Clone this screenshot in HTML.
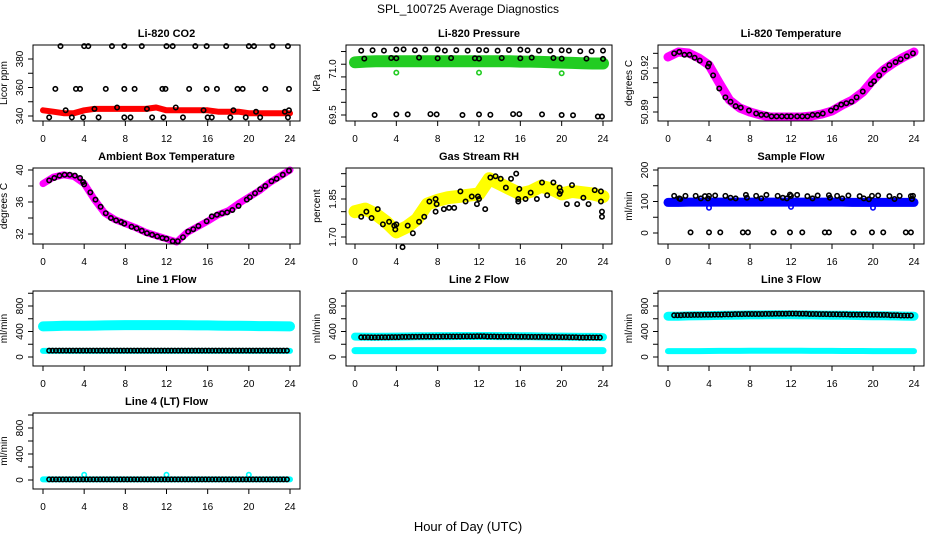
<!DOCTYPE html>
<html><head><meta charset="utf-8"><style>
body{margin:0;background:#fff;}
svg{display:block;font-family:"Liberation Sans",sans-serif;}
</style></head><body>
<svg id="chart" width="936" height="540" viewBox="0 0 936 540" xmlns="http://www.w3.org/2000/svg">
<rect width="936" height="540" fill="#fff"/>
<text x="468" y="13" font-size="12" text-anchor="middle">SPL_100725  Average Diagnostics</text>
<text x="468" y="531" font-size="13" text-anchor="middle">Hour of Day (UTC)</text>
</svg>
<script>
// ---------- data ----------
const hours = [0,1,2,3,4,5,6,7,8,9,10,11,12,13,14,15,16,17,18,19,20,21,22,23,24];
const xTicks = [0,4,8,12,16,20,24];

const co2Band = [344,343,342,342,344,345,345,345,345,345,345,346,344,344,344,344,344,343,343,343,342,342,342,342,342];
const co2PtX = [1.7,4,4.4,6.7,7.9,9.6,12,12.6,14.8,15.9,17.8,20,20.5,22.3,23.8, 1.2,3.2,3.6,6.1,7.9,8.9,11.6,11.9,14.2,15.9,16.9,18.9,19.4,21.6,23.9, 0.6,2.8,3.9,5.4,7.9,8.5,10.6,11.7,13.6,16,16.4,18.2,19.7,21.1,23.8, 2.2,5,7.2,10.1,12.9,15.6,18.5,20.7,23.5,23.9];
const co2PtY = [389,389,389,389,389,389,389,389,389,389,389,389,389,389,389, 359,359,359,359,359,359,359,359,359,359,359,359,359,359,359, 339,339,339,339,339,339,339,339,339,339,339,339,339,339,339, 344,345,346,345,346,344,344,343,343,344];

const presBand = [71.22,71.24,71.25,71.25,71.25,71.25,71.25,71.25,71.25,71.25,71.25,71.25,71.25,71.25,71.25,71.25,71.24,71.24,71.23,71.22,71.21,71.2,71.19,71.18,71.18];
const presPtX = [0.6,1.7,2.8,4,4.7,5.8,6.8,8,8.7,9.8,10.9,12,12.7,13.8,14.9,16,16.7,17.8,18.9,20,20.7,21.8,22.9,24, 0.9,3.5,4,6.2,8,9.3,11.6,12,14.2,16,17.1,19.2,20,22.4,24, 1.9,4,5.1,7.3,7.9,10.4,12,13.1,15.3,15.9,18.1,20,21.1,23.5,23.9];
const presPtY = [71.6,71.61,71.6,71.63,71.64,71.61,71.63,71.64,71.6,71.61,71.6,71.62,71.61,71.6,71.62,71.63,71.61,71.6,71.6,71.61,71.6,71.58,71.58,71.6, 71.34,71.36,71.35,71.37,71.35,71.36,71.35,71.34,71.36,71.35,71.37,71.36,71.34,71.34,71.33, 69.5,69.52,69.52,69.53,69.52,69.5,69.52,69.51,69.53,69.53,69.52,69.5,69.49,69.45,69.45];
const presGreenX = [4,12,20];
const presGreenY = [70.88,70.88,70.86];

const tempBand = [50.9275,50.9309,50.9302,50.9268,50.922,50.9098,50.8982,50.8927,50.89,50.888,50.8866,50.8866,50.8866,50.8866,50.8873,50.8886,50.8907,50.8948,50.8982,50.9036,50.9118,50.9186,50.9234,50.9275,50.9309];
const tempPtX = [0.6,1.1,1.6,2.1,2.6,3.1,3.9,4.0,4.4,5.0,5.6,6.1,6.6,7.1,7.9,8.6,9.1,9.6,10.1,10.6,11.1,11.6,12.0,12.6,13.1,13.6,14.1,14.6,15.1,15.9,16.4,16.9,17.4,17.9,18.4,19.0,19.8,20.1,20.6,21.1,21.6,22.2,22.7,23.3,23.9];
const tempPtY = [50.930,50.931,50.929,50.929,50.927,50.925,50.921,50.923,50.915,50.906,50.900,50.897,50.894,50.893,50.891,50.889,50.888,50.888,50.887,50.887,50.887,50.887,50.887,50.887,50.887,50.887,50.888,50.888,50.889,50.891,50.893,50.895,50.896,50.897,50.900,50.904,50.909,50.911,50.915,50.919,50.922,50.924,50.926,50.928,50.930];

const ambBand = [38.3,39.1,39.4,39.2,38.3,36.3,34.6,33.8,33.3,32.8,32.2,31.8,31.4,31.0,32.2,32.9,33.6,34.4,34.9,35.8,36.6,37.4,38.4,39.2,40.0];
const ambPtX = [0.6,1.1,1.6,2.1,2.6,3.1,3.6,3.9,4.0,4.6,5.1,5.6,6.1,6.6,7.1,7.6,7.9,8.6,9.1,9.6,10.1,10.6,11.1,11.6,12.0,12.6,13.1,13.6,14.1,14.6,15.1,15.9,16.4,16.9,17.4,17.9,18.4,19.0,19.8,20.1,20.6,21.1,21.6,22.2,22.7,23.3,23.9];
const ambPtY = [38.7,39.0,39.3,39.4,39.4,39.3,39.0,38.5,38.2,37.2,36.3,35.4,34.6,34.0,33.7,33.5,33.3,32.9,32.7,32.4,32.1,31.9,31.7,31.5,31.4,31.1,31.1,31.6,32.3,32.6,33.0,33.6,34.2,34.4,34.6,34.7,35.0,35.5,36.3,36.6,37.1,37.6,38.0,38.6,38.9,39.4,39.9];

const rhBand = [1.80,1.81,1.79,1.76,1.72,1.74,1.77,1.83,1.845,1.855,1.86,1.865,1.87,1.93,1.91,1.89,1.87,1.88,1.90,1.89,1.87,1.88,1.875,1.87,1.86];
const rhPtX = [0.6,1.1,1.6,2.2,2.7,3.3,3.8,3.9,4.0,4.6,5.1,5.6,6.2,6.7,7.2,7.8,7.8,7.9,8.6,9.1,9.6,10.2,10.7,11.3,11.8,11.9,12.0,12.6,13.1,13.6,14.1,14.6,15.1,15.6,15.8,15.8,15.9,16.5,17.0,17.6,18.1,18.6,19.2,19.8,19.8,19.9,20.5,21.0,21.5,22.1,22.6,23.2,23.8,23.8,23.9,23.9];
const rhPtY = [1.78,1.80,1.775,1.81,1.75,1.76,1.745,1.73,1.75,1.66,1.745,1.715,1.76,1.78,1.84,1.85,1.80,1.83,1.81,1.815,1.815,1.88,1.84,1.86,1.83,1.86,1.85,1.81,1.935,1.94,1.93,1.895,1.93,1.95,1.84,1.85,1.89,1.85,1.875,1.85,1.915,1.865,1.915,1.895,1.87,1.88,1.83,1.905,1.83,1.855,1.83,1.885,1.88,1.84,1.78,1.80];

const sfBand = [97,97,98,98,98,98,98,98,98,98,98,98,98,98,98,98,98,98,97,97,97,97,97,97,97];
const sfPtX = [0.6,1.1,1.2,1.7,2.7,3.2,3.6,3.9,4.0,4.6,5.6,6.1,6.6,7.6,7.7,8.6,9.1,9.6,10.7,11.2,11.6,11.9,12.0,12.6,13.6,14.1,14.6,15.7,15.8,16.5,17.0,17.6,18.7,19.1,19.6,19.9,20.5,21.6,22.1,22.6,23.7,23.8,23.9, 2.2,4.0,5.1,7.3,7.8,10.3,11.9,13.1,15.3,15.7,18.1,19.9,21.0,23.2,23.7];
const sfPtY = [118,110,108,118,118,110,117,110,118,119,118,112,110,121,112,118,110,121,118,112,110,122,118,121,117,110,119,120,112,118,110,119,117,110,107,118,119,117,108,118,117,108,118, 2,2,2,2,2,2,2,2,2,2,2,2,2,2,2];
const sfBlueX = [4,12,20];
const sfBlueY = [80,83,80];

const l1Upper = [480,485,490,490,490,492,495,498,500,500,500,500,500,500,498,495,495,492,490,490,488,485,485,482,480];
const l1Lower = [95,95,95,95,95,95,95,95,95,95,95,95,95,95,95,95,95,95,95,95,95,95,95,95,95];
const l1Black = [100,100,100,100,100,100,100,100,100,100,100,100,100,100,100,100,100,100,100,100,100,100,100,100,100];
const l2Upper = [320,318,315,318,320,322,325,326,328,328,330,330,330,330,328,328,326,325,322,320,320,318,316,315,312];
const l2Lower = [100,100,100,100,100,100,100,100,100,100,100,100,100,100,100,100,100,100,100,100,100,100,100,100,100];
const l2Black = [312,310,308,310,312,316,318,320,320,322,322,324,325,322,320,320,318,316,315,314,312,310,306,305,305];
const l3Upper = [640,640,645,648,650,652,655,658,660,660,662,662,662,660,660,658,656,655,652,650,648,646,645,642,640];
const l3Lower = [92,92,92,92,94,95,96,96,98,98,99,99,98,97,96,95,95,94,94,94,93,92,92,92,92];
const l3Black = [660,655,658,660,662,665,668,672,675,675,676,678,680,678,675,672,670,668,665,665,662,660,655,650,650];
const l4Band = [10,10,10,10,10,10,10,10,10,10,10,10,10,10,10,10,10,10,10,10,10,10,10,10,10];
const l4Black = [10,10,10,10,10,10,10,10,10,10,10,10,10,10,10,10,10,10,10,10,10,10,10,10,10];
const l4CyanX = [4,12,20];
const l4CyanY = [80,80,80];

const flowTicks = [0,200,400,600,800,1000];
const flowLabels = [0,400,800];

// ---------- helpers ----------
const svg = document.getElementById('chart');
const NS = 'http://www.w3.org/2000/svg';
function mk(tag, attrs, parent){
  const e = document.createElementNS(NS, tag);
  for (const k in attrs) e.setAttribute(k, attrs[k]);
  (parent||svg).appendChild(e);
  return e;
}
const cols = [{l:33,r:300,x0:43,x24:290},{l:346,r:612,x0:355,x24:603},{l:658,r:924,x0:668,x24:914}];
const rows = [{t:45,b:121},{t:168,b:244},{t:291,b:366},{t:413,b:489}];

function panel(name, title, ci, ri, yTitle, v1, p1, v2, p2, ticks, labels){
  const c = cols[ci], r = rows[ri];
  const g = mk('g', {});
  
  
  const xs = h => c.x0 + h*(c.x24-c.x0)/24;
  const ys = v => p1 + (v-v1)*(p2-p1)/(v2-v1);
  const t = mk('text', {x:(c.l+c.r)/2, y:r.t-8, 'font-size':11, 'font-weight':'bold', 'text-anchor':'middle'}, g);
  t.textContent = title;
  
  
  const plot = mk('g', {}, g);
  
  
  const xa = mk('g', {}, g);
  
  
  xTicks.forEach(h => {
    mk('line', {x1:xs(h), x2:xs(h), y1:r.b, y2:r.b+5, stroke:'#000', 'stroke-width':1}, xa);
    const lt = mk('text', {x:xs(h), y:r.b+21, 'font-size':10, 'text-anchor':'middle'}, xa);
    lt.textContent = h;
    
    
  });
  const ya = mk('g', {}, g);
  
  
  ticks.forEach(v => {
    mk('line', {x1:c.l-5, x2:c.l, y1:ys(v), y2:ys(v), stroke:'#000', 'stroke-width':1}, ya);
  });
  labels.forEach(l => {
    const y = ys(l.v), x = c.l-10;
    const lt = mk('text', {x:x, y:y, 'font-size':10, 'text-anchor':'middle', transform:`rotate(-90,${x},${y})`}, ya);
    lt.textContent = l.s;
    
    
  });
  const yx = c.l-26, yy = (r.t+r.b)/2;
  const yt = mk('text', {x:yx, y:yy, 'font-size':10, 'text-anchor':'middle', transform:`rotate(-90,${yx},${yy})`}, ya);
  yt.textContent = yTitle;
  
  
  const box = mk('rect', {x:c.l, y:r.t, width:c.r-c.l, height:r.b-r.t, fill:'none', stroke:'#000', 'stroke-width':1}, g);
  
  
  return {plot, xs, ys};
}
function band(P, xsArr, vals, color, w){
  const pts = xsArr.map((h,i)=>P.xs(h).toFixed(1)+','+P.ys(vals[i]).toFixed(1)).join(' ');
  const e = mk('polyline', {points:pts, fill:'none', stroke:color, 'stroke-width':w, 'stroke-linejoin':'round', 'stroke-linecap':'round'}, P.plot);
  
  
}
function pts(P, xArr, yArr, color){
  xArr.forEach((h,i) => {
    const e = mk('circle', {cx:P.xs(h), cy:P.ys(yArr[i]), r:2.2, fill:'none', stroke:color, 'stroke-width':1.6}, P.plot);
    
    
  });
}
const seq = (a,b,s) => { const o=[]; for(let v=a; v<=b+1e-9; v+=s) o.push(+v.toFixed(4)); return o; };

// ---------- panels ----------
let P;
P = panel('panel-co2','Li-820 CO2',0,0,'Licor ppm',340,116,380,59,seq(340,380,10),[{v:340,s:'340'},{v:360,s:'360'},{v:380,s:'380'}]);
band(P, hours, co2Band, '#ff0000', 6);
pts(P, co2PtX, co2PtY, '#000');

P = panel('panel-pressure','Li-820 Pressure',1,0,'kPa',69.5,115,71.0,69,[69.5,69.914,70.328,70.742,71.156,71.57],[{v:69.5,s:'69.5'},{v:71.0,s:'71.0'}]);
band(P, hours, presBand, '#22cc22', 12);
pts(P, presGreenX, presGreenY, '#22cc22');
pts(P, presPtX, presPtY, '#000');

P = panel('panel-li820-temp','Li-820 Temperature',2,0,'degrees C',50.89,112,50.92,68,seq(50.89,50.93,0.01),[{v:50.89,s:'50.89'},{v:50.92,s:'50.92'}]);
band(P, hours, tempBand, '#ff00ff', 9);
pts(P, tempPtX, tempPtY, '#000');

P = panel('panel-ambient-temp','Ambient Box Temperature',0,1,'degrees C',32,234,40,170,seq(32,40,2),[{v:32,s:'32'},{v:36,s:'36'},{v:40,s:'40'}]);
band(P, hours, ambBand, '#ff00ff', 7);
pts(P, ambPtX, ambPtY, '#000');

P = panel('panel-gas-rh','Gas Stream RH',1,1,'percent',1.70,237,1.85,199,seq(1.70,1.95,0.05),[{v:1.70,s:'1.70'},{v:1.85,s:'1.85'}]);
band(P, hours, rhBand, '#ffff00', 13);
pts(P, rhPtX, rhPtY, '#000');

P = panel('panel-sample-flow','Sample Flow',2,1,'ml/min',0,233,200,170,seq(0,200,50),[{v:0,s:'0'},{v:100,s:'100'},{v:200,s:'200'}]);
band(P, hours, sfBand, '#0000ff', 9);
pts(P, sfBlueX, sfBlueY, '#0000ff');
pts(P, sfPtX, sfPtY, '#000');

const flowLab = flowLabels.map(v=>({v:v,s:String(v)}));
const blackHours = seq(0.6,23.9,0.33);
P = panel('panel-line1-flow','Line 1 Flow',0,2,'ml/min',0,357,800,306,flowTicks,flowLab);
band(P, hours, l1Upper, '#00ffff', 10);
band(P, hours, l1Lower, '#00ffff', 6);
pts(P, blackHours, blackHours.map(h=>l1Black[Math.round(h)]), '#000');

P = panel('panel-line2-flow','Line 2 Flow',1,2,'ml/min',0,357,800,306,flowTicks,flowLab);
band(P, hours, l2Upper, '#00ffff', 8);
band(P, hours, l2Lower, '#00ffff', 7);
pts(P, blackHours, blackHours.map(h=>l2Black[Math.round(h)]), '#000');

P = panel('panel-line3-flow','Line 3 Flow',2,2,'ml/min',0,357,800,306,flowTicks,flowLab);
band(P, hours, l3Upper, '#00ffff', 9);
band(P, hours, l3Lower, '#00ffff', 6);
pts(P, blackHours, blackHours.map(h=>l3Black[Math.round(h)]), '#000');

P = panel('panel-line4-flow','Line 4 (LT) Flow',0,3,'ml/min',0,480,800,428,flowTicks,flowLab);
band(P, hours, l4Band, '#00ffff', 6);
pts(P, l4CyanX, l4CyanY, '#00ffff');
pts(P, blackHours, blackHours.map(h=>l4Black[Math.round(h)]), '#000');
</script>
</body></html>
